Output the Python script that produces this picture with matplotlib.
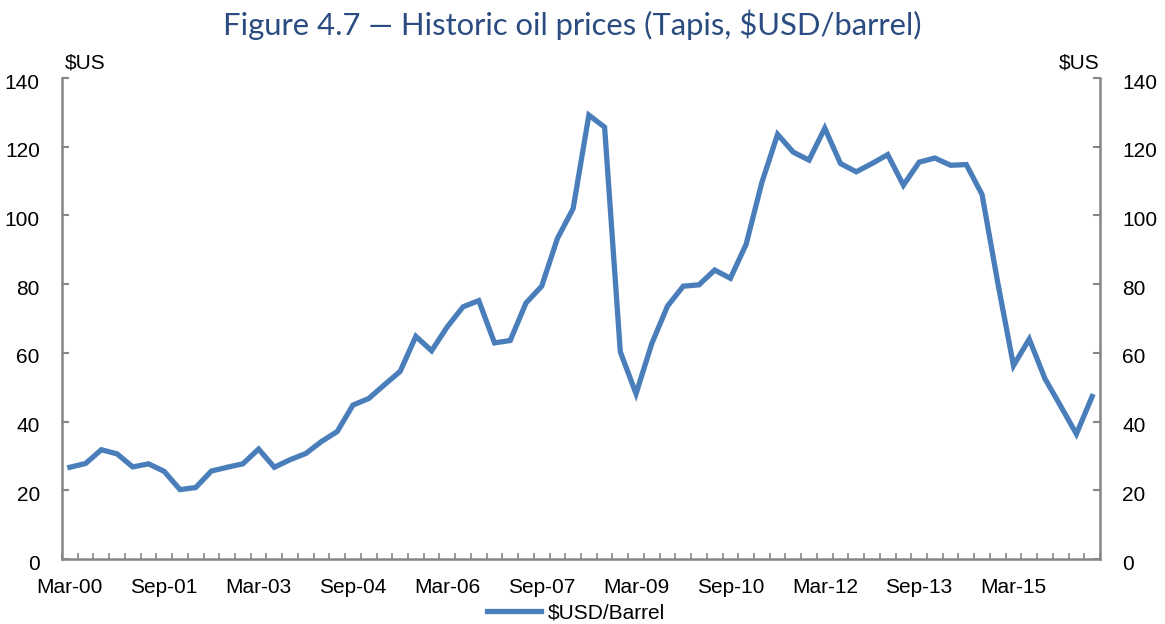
import matplotlib
matplotlib.use("Agg")
import matplotlib.pyplot as plt
import matplotlib.transforms as mtransforms
from matplotlib.ticker import FixedLocator

# Quarterly Tapis prices, Mar-00 .. Jun-16
prices = [
    26.7, 27.8, 31.8, 30.6, 26.8, 27.7, 25.5, 20.2, 20.8, 25.6,
    26.7, 27.7, 32.0, 26.7, 28.9, 30.7, 34.2, 37.1, 44.8, 46.7,
    50.7, 54.6, 64.8, 60.6, 67.6, 73.4, 75.2, 62.9, 63.6, 74.5,
    79.4, 93.3, 102.0, 129.2, 125.7, 60.3, 48.1, 62.7, 73.6, 79.4,
    79.8, 84.1, 81.7, 91.6, 109.6, 123.6, 118.4, 116.1, 125.4, 115.1,
    112.7, 115.1, 117.7, 108.8, 115.5, 116.7, 114.6, 114.8, 106.1, 80.4,
    56.3, 64.0, 52.5, 44.5, 36.4, 47.3,
]
tick_positions = [0, 6, 12, 18, 24, 30, 36, 42, 48, 54, 60]
tick_labels = ["Mar-00", "Sep-01", "Mar-03", "Sep-04", "Mar-06", "Sep-07",
               "Mar-09", "Sep-10", "Mar-12", "Sep-13", "Mar-15"]
y_ticks = [0, 20, 40, 60, 80, 100, 120, 140]
series_name = "$USD/Barrel"
title = "Figure 4.7 \u2014 Historic oil prices (Tapis, $USD/barrel)"

W, H = 1165, 624
plt.rcParams['font.family'] = ['Liberation Sans', 'DejaVu Sans']
fig = plt.figure(figsize=(W / 100, H / 100), dpi=100)
ax = fig.add_axes([62 / W, 1 - 559 / H, (1100 - 62) / W, (559 - 78) / H])

x = list(range(len(prices)))
line, = ax.plot(x, prices, color="#4A7EBB", lw=3.8, solid_joinstyle="miter",
                label=series_name)

ax.set_xlim(-0.5, len(prices) - 0.5)
ax.set_ylim(0, 140)

grey = "#868686"
for s in ("left", "right", "bottom"):
    ax.spines[s].set_color(grey)
    ax.spines[s].set_linewidth(1.8)
ax.spines["top"].set_visible(False)

ax.set_yticks(y_ticks)
ax.set_yticklabels([str(v) for v in y_ticks])
ax.tick_params(axis="y", which="major", direction="in", length=5, width=1.5,
               color=grey, left=True, right=True, labelleft=True,
               labelright=True, labelsize=15, pad=16)
offset = mtransforms.ScaledTranslation(0, -3 / 100, fig.dpi_scale_trans)
for t in ax.yaxis.get_major_ticks():
    t.label1.set_transform(t.label1.get_transform() + offset)
    t.label2.set_transform(t.label2.get_transform() + offset)

ax.set_xticks(tick_positions)
ax.set_xticklabels(tick_labels)
ax.tick_params(axis="x", which="major", length=0, labelsize=15, pad=14)
ax.xaxis.set_minor_locator(FixedLocator([i - 0.5 for i in range(len(prices) + 1)]))
ax.tick_params(axis="x", which="minor", direction="in", length=4, width=1.2,
               color=grey)

fig.text(65 / W, 1 - 63 / H, "$US", ha="left", va="center", fontsize=15)
fig.text(1100 / W, 1 - 63 / H, "$US", ha="right", va="center", fontsize=15)

fig.text(572 / W, 1 - 25 / H, title, ha="center", va="center",
         color="#2B4C80", fontsize=22.3, family="Lato")

fig.legend(handles=[line], labels=[series_name], loc="center",
           bbox_to_anchor=(576 / W, 1 - 613 / H), frameon=False,
           handlelength=2.6, handletextpad=0.3,
           prop={"family": "Liberation Sans", "size": 15})

fig.savefig("out.png", dpi=100)
